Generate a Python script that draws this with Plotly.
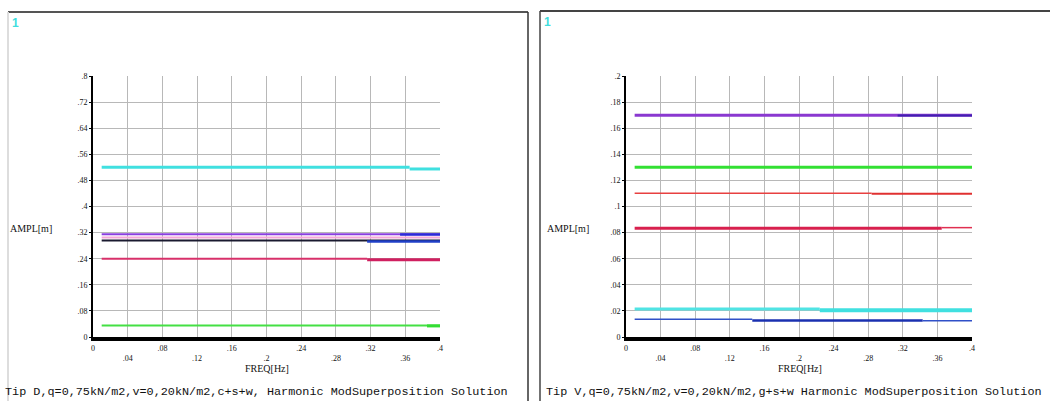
import plotly.graph_objects as go

W, H = 1050, 401

# ---------------- data ----------------
x_ticks = [0, 0.04, 0.08, 0.12, 0.16, 0.2, 0.24, 0.28, 0.32, 0.36, 0.4]
x_tick_text = ["0", ".04", ".08", ".12", ".16", ".2", ".24", ".28", ".32", ".36", ".4"]

left_y_ticks = [0, 0.08, 0.16, 0.24, 0.32, 0.4, 0.48, 0.56, 0.64, 0.72, 0.8]
left_y_text = ["0", ".08", ".16", ".24", ".32", ".4", ".48", ".56", ".64", ".72", ".8"]
right_y_ticks = [0, 0.02, 0.04, 0.06, 0.08, 0.1, 0.12, 0.14, 0.16, 0.18, 0.2]
right_y_text = ["0", ".02", ".04", ".06", ".08", ".1", ".12", ".14", ".16", ".18", ".2"]

# Tip D (left) series
d_cyan_f = [0.01, 0.365]; d_cyan_a = [0.520, 0.520]
d_cyan2_f = [0.365, 0.40]; d_cyan2_a = [0.515, 0.515]
d_purple_f = [0.01, 0.40]; d_purple_a = [0.315, 0.315]
d_purple2_f = [0.354, 0.40]; d_purple2_a = [0.314, 0.314]
d_pink_f = [0.01, 0.40]; d_pink_a = [0.305, 0.305]
d_black_f = [0.01, 0.40]; d_black_a = [0.296, 0.296]
d_blue2_f = [0.316, 0.40]; d_blue2_a = [0.293, 0.293]
d_crim_f = [0.01, 0.316]; d_crim_a = [0.240, 0.240]
d_crim2_f = [0.316, 0.40]; d_crim2_a = [0.237, 0.237]
d_green_f = [0.01, 0.40]; d_green_a = [0.035, 0.035]
d_green2_f = [0.385, 0.40]; d_green2_a = [0.034, 0.034]

# Tip V (right) series
v_purple_f = [0.01, 0.40]; v_purple_a = [0.170, 0.170]
v_purple2_f = [0.314, 0.40]; v_purple2_a = [0.1698, 0.1698]
v_green_f = [0.01, 0.40]; v_green_a = [0.130, 0.130]
v_red_f = [0.01, 0.284]; v_red_a = [0.1102, 0.1102]
v_red2_f = [0.284, 0.40]; v_red2_a = [0.1098, 0.1098]
v_crim_f = [0.01, 0.365]; v_crim_a = [0.0834, 0.0834]
v_crim2_f = [0.365, 0.40]; v_crim2_a = [0.0838, 0.0838]
v_cyan_f = [0.01, 0.224]; v_cyan_a = [0.0215, 0.0215]
v_cyan2_f = [0.224, 0.40]; v_cyan2_a = [0.0205, 0.0205]
v_blue_f = [0.01, 0.146]; v_blue_a = [0.0136, 0.0136]
v_blue2_f = [0.146, 0.343]; v_blue2_a = [0.0126, 0.0126]
v_blue3_f = [0.343, 0.40]; v_blue3_a = [0.0124, 0.0124]

left_title = "Tip D,q=0,75kN/m2,v=0,20kN/m2,c+s+w, Harmonic ModSuperposition Solution"
right_title = "Tip V,q=0,75kN/m2,v=0,20kN/m2,g+s+w Harmonic ModSuperposition Solution"

# ---------------- figure ----------------
fig = go.Figure()

def add(f, a, color, width, xa, ya):
    fig.add_trace(go.Scatter(x=f, y=a, mode="lines", xaxis=xa, yaxis=ya,
                             line=dict(color=color, width=width),
                             showlegend=False, hoverinfo="skip"))

# left
add(d_cyan_f, d_cyan_a, "#40e0e0", 3, "x", "y")
add(d_cyan2_f, d_cyan2_a, "#40e0e0", 3, "x", "y")
add(d_purple_f, d_purple_a, "#8a3fe0", 2, "x", "y")
add(d_purple2_f, d_purple2_a, "#2b2bd8", 2.5, "x", "y")
add(d_pink_f, d_pink_a, "#f4a8d8", 2, "x", "y")
add(d_black_f, d_black_a, "#1a1a30", 2, "x", "y")
add(d_blue2_f, d_blue2_a, "#2040c8", 2.5, "x", "y")
add(d_crim_f, d_crim_a, "#d8306a", 2, "x", "y")
add(d_crim2_f, d_crim2_a, "#d02060", 3, "x", "y")
add(d_green_f, d_green_a, "#44e044", 2, "x", "y")
add(d_green2_f, d_green2_a, "#33dd33", 3, "x", "y")

# right
add(v_purple_f, v_purple_a, "#8a38d0", 3, "x2", "y2")
add(v_purple2_f, v_purple2_a, "#4020b0", 2, "x2", "y2")
add(v_green_f, v_green_a, "#33e033", 3, "x2", "y2")
add(v_red_f, v_red_a, "#e84040", 1.5, "x2", "y2")
add(v_red2_f, v_red2_a, "#e03030", 2, "x2", "y2")
add(v_crim_f, v_crim_a, "#d8204e", 3, "x2", "y2")
add(v_crim2_f, v_crim2_a, "#e03050", 1.5, "x2", "y2")
add(v_cyan_f, v_cyan_a, "#50e4e4", 3, "x2", "y2")
add(v_cyan2_f, v_cyan2_a, "#40e0e0", 4, "x2", "y2")
add(v_blue_f, v_blue_a, "#3050c8", 1.5, "x2", "y2")
add(v_blue2_f, v_blue2_a, "#1a30b0", 2.5, "x2", "y2")
add(v_blue3_f, v_blue3_a, "#3050c8", 1.5, "x2", "y2")

stag_text = [t if i % 2 == 0 else "<br>" + t for i, t in enumerate(x_tick_text)]

tickfont = dict(family="Liberation Serif", size=8, color="#111")

def xaxis(domain, anchor):
    return dict(domain=domain, anchor=anchor, range=[0, 0.4], tickvals=x_ticks,
                ticktext=stag_text, tickfont=tickfont, showgrid=True,
                gridcolor="#b8b8b8", gridwidth=1, showline=True, linecolor="#000",
                linewidth=4, zeroline=False, ticks="", mirror=False, fixedrange=True)

def yaxis(domain, anchor, rng, tv, tt):
    return dict(domain=domain, anchor=anchor, range=rng, tickvals=tv, ticktext=tt,
                tickfont=tickfont, showgrid=True, gridcolor="#b8b8b8", gridwidth=1,
                showline=True, linecolor="#000", linewidth=2, zeroline=False,
                ticks="outside", ticklen=2, tickcolor="#000", fixedrange=True)

ydom = [1 - 337 / H, 1 - 76 / H]
fig.update_layout(
    width=W, height=H, margin=dict(l=0, r=0, t=0, b=0, autoexpand=False),
    paper_bgcolor="white", plot_bgcolor="white",
    xaxis=xaxis([93 / W, 440 / W], "y"),
    yaxis=yaxis(ydom, "x", [0, 0.8], left_y_ticks, left_y_text),
    xaxis2=xaxis([626 / W, 972 / W], "y2"),
    yaxis2=yaxis(ydom, "x2", [0, 0.2], right_y_ticks, right_y_text),
)

def px(x):
    return x / W

def py(y):
    return 1 - y / H

shapes = [
    dict(type="line", xref="paper", yref="paper", x0=px(8), x1=px(528), y0=py(12), y1=py(12),
         line=dict(color="#555", width=2)),
    dict(type="line", xref="paper", yref="paper", x0=px(8), x1=px(8), y0=py(12), y1=0,
         line=dict(color="#ddd", width=2)),
    dict(type="line", xref="paper", yref="paper", x0=px(528), x1=px(528), y0=py(12), y1=0,
         line=dict(color="#333", width=1.5)),
    dict(type="line", xref="paper", yref="paper", x0=px(540), x1=1, y0=py(11), y1=py(11),
         line=dict(color="#444", width=2)),
    dict(type="line", xref="paper", yref="paper", x0=px(540), x1=px(540), y0=py(11), y1=0,
         line=dict(color="#444", width=1.5)),
]
fig.update_layout(shapes=shapes)

ann_font = dict(family="Liberation Mono", size=11.8, color="#111")
lab_font = dict(family="Liberation Serif", size=10, color="#111")
one_font = dict(family="Liberation Sans", size=12, color="#40dede")
anns = [
    dict(text="<b>1</b>", x=px(10), y=py(14), xanchor="left", yanchor="top", font=one_font),
    dict(text="<b>1</b>", x=px(542), y=py(13), xanchor="left", yanchor="top", font=one_font),
    dict(text="AMPL[m]", x=px(8), y=py(229), xanchor="left", yanchor="middle", font=lab_font),
    dict(text="AMPL[m]", x=px(545), y=py(229), xanchor="left", yanchor="middle", font=lab_font),
    dict(text="FREQ[Hz]", x=px(267), y=py(368), xanchor="center", yanchor="middle", font=lab_font),
    dict(text="FREQ[Hz]", x=px(800), y=py(368), xanchor="center", yanchor="middle", font=lab_font),
    dict(text=left_title, x=px(3), y=py(392), xanchor="left", yanchor="middle", font=ann_font),
    dict(text=right_title, x=px(544), y=py(392), xanchor="left", yanchor="middle", font=ann_font),
]
for a in anns:
    a.update(xref="paper", yref="paper", showarrow=False)
fig.update_layout(annotations=anns)

fig.write_html("out.html", config={"displayModeBar": False},
               post_script="document.body.style.margin='0px';document.body.style.padding='0px';")
